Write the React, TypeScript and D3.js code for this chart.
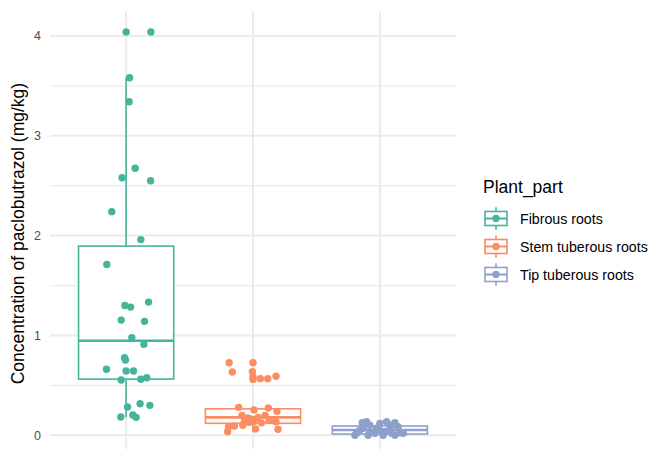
import React from "react";
import * as d3 from "d3";

const categories = ["Fibrous roots", "Stem tuberous roots", "Tip tuberous roots"];
const palette = ["#45B49B", "#FC8D62", "#8DA0CB"];

// Measured concentrations (mg/kg) per plant part, with horizontal jitter (fraction of category step)
const fibrousValues = [4.04, 4.04, 3.58, 3.34, 2.675, 2.58, 2.55, 2.24, 1.96, 1.71, 1.3, 1.284, 1.334, 1.154, 1.141, 0.977, 0.911, 0.777, 0.754, 0.661, 0.644, 0.644, 0.554, 0.561, 0.577, 0.283, 0.316, 0.3, 0.183, 0.203, 0.18];
const fibrousJitter = [0.0, 0.195, 0.027, 0.024, 0.071, -0.032, 0.193, -0.113, 0.116, -0.152, -0.01, 0.035, 0.177, -0.039, 0.145, 0.045, 0.14, -0.013, -0.005, -0.155, 0.0, 0.058, -0.039, 0.116, 0.163, 0.011, 0.11, 0.187, -0.042, 0.053, 0.079];

const stemValues = [0.727, 0.727, 0.634, 0.637, 0.587, 0.567, 0.567, 0.591, 0.56, 0.28, 0.253, 0.273, 0.24, 0.2, 0.175, 0.165, 0.14, 0.14, 0.125, 0.15, 0.135, 0.2, 0.086, 0.093, 0.035, 0.063, 0.06, 0.18, 0.16, 0.1, 0.13];
const stemJitter = [-0.188, 0.0, -0.163, -0.005, 0.0, 0.058, 0.116, 0.181, 0.0, -0.113, 0.008, 0.121, 0.189, -0.087, -0.039, -0.016, -0.067, 0.008, 0.067, 0.128, 0.181, 0.095, -0.192, -0.146, -0.2, 0.02, 0.197, 0.04, 0.134, -0.08, -0.03];

const tipValues = [0.126, 0.136, 0.12, 0.136, 0.126, 0.02, 0.036, 0.02, 0.036, 0.02, 0.025, 0.07, 0.07, 0.07, 0.086, 0.0, 0.0, 0.0, 0.0, 0.02, 0.1, 0.05, 0.1, 0.05];
const tipJitter = [-0.139, -0.105, 0.0, 0.053, 0.118, -0.183, -0.079, -0.039, 0.039, 0.092, 0.158, -0.132, -0.026, 0.079, 0.144, -0.197, -0.092, 0.026, 0.118, 0.184, -0.079, 0.0, 0.095, -0.158];

// Boxplot summaries per plant part
const whiskerLow = [0.18, 0.035, 0.0];
const boxQ1 = [0.563, 0.12, 0.013];
const boxMedian = [0.947, 0.18, 0.053];
const boxQ3 = [1.895, 0.265, 0.093];
const whiskerHigh = [3.58, 0.28, 0.136];

const yTicks = [0, 1, 2, 3, 4];
const yMinorTicks = [0.5, 1.5, 2.5, 3.5];

const groups = [
  { values: fibrousValues, jitter: fibrousJitter },
  { values: stemValues, jitter: stemJitter },
  { values: tipValues, jitter: tipJitter },
];

const W = 654;
const H = 449;
const panel = { left: 50, right: 456, top: 11.7, bottom: 455.5 };
const FONT = "'Liberation Sans', Arial, sans-serif";
const GRID = "#EBEBEB";

export default function App() {
  const x = d3.scalePoint<string>().domain(categories).range([panel.left, panel.right]).padding(0.6);
  const step = x.step();
  const y = d3.scaleLinear().domain([-0.2022, 4.2422]).range([panel.bottom, panel.top]);
  const boxW = step * 0.75;

  const keyX = 496;
  const keyYs = [218.5, 246.5, 274.5];
  const keySize = 28;

  return (
    <svg width={W} height={H} style={{ position: "absolute", left: 0, top: 0, background: "#fff" }} fontFamily={FONT}>
      {/* grid */}
      {yMinorTicks.map((t) => (
        <line key={"mn" + t} x1={panel.left} x2={panel.right} y1={y(t)} y2={y(t)} stroke={GRID} strokeWidth={1.2} />
      ))}
      {yTicks.map((t) => (
        <line key={"mj" + t} x1={panel.left} x2={panel.right} y1={y(t)} y2={y(t)} stroke={GRID} strokeWidth={2} />
      ))}
      {categories.map((c) => (
        <line key={"v" + c} x1={x(c)} x2={x(c)} y1={panel.top} y2={panel.bottom} stroke={GRID} strokeWidth={2} />
      ))}

      {/* y tick labels */}
      {yTicks.map((t) => (
        <text key={"t" + t} x={41} y={y(t)} dy="0.36em" textAnchor="end" fontSize={12.5} fill="#4D4D4D">
          {t}
        </text>
      ))}

      {/* y axis title */}
      <text
        transform={`translate(${24},${(panel.top + panel.bottom) / 2}) rotate(-90)`}
        textAnchor="middle"
        fontSize={17.5}
        fill="#000"
      >
        Concentration of paclobutrazol (mg/kg)
      </text>

      {/* boxplots */}
      {categories.map((c, i) => {
        const cx = x(c)!;
        return (
          <g key={"b" + c} stroke={palette[i]} fill="#fff">
            <line x1={cx} x2={cx} y1={y(boxQ3[i])} y2={y(whiskerHigh[i])} strokeWidth={1.6} />
            <line x1={cx} x2={cx} y1={y(boxQ1[i])} y2={y(whiskerLow[i])} strokeWidth={1.6} />
            <rect x={cx - boxW / 2} width={boxW} y={y(boxQ3[i])} height={y(boxQ1[i]) - y(boxQ3[i])} strokeWidth={1.6} />
            <line x1={cx - boxW / 2} x2={cx + boxW / 2} y1={y(boxMedian[i])} y2={y(boxMedian[i])} strokeWidth={2.6} />
          </g>
        );
      })}

      {/* jittered points */}
      {groups.map((g, i) =>
        g.values.map((v, j) => (
          <circle
            key={`p${i}-${j}`}
            cx={x(categories[i])! + g.jitter[j] * step}
            cy={y(v)}
            r={3.7}
            fill={palette[i]}
          />
        ))
      )}

      {/* legend */}
      <text x={483} y={193} fontSize={17.5} fill="#000">
        Plant_part
      </text>
      {categories.map((c, i) => {
        const ky = keyYs[i];
        const k0 = ky - keySize / 2;
        return (
          <g key={"l" + c}>
            <g stroke={palette[i]} fill="none" strokeWidth={1.6}>
              <line x1={keyX} x2={keyX} y1={k0 + keySize * 0.1} y2={k0 + keySize * 0.25} />
              <line x1={keyX} x2={keyX} y1={k0 + keySize * 0.75} y2={k0 + keySize * 0.9} />
              <rect x={keyX - 11} y={k0 + keySize * 0.25} width={22} height={keySize * 0.5} />
              <line x1={keyX - 11} x2={keyX + 11} y1={ky} y2={ky} strokeWidth={2} />
            </g>
            <circle cx={keyX} cy={ky} r={3.7} fill={palette[i]} />
            <text x={520} y={ky} dy="0.36em" fontSize={14.2} fill="#000">
              {c}
            </text>
          </g>
        );
      })}
    </svg>
  );
}
